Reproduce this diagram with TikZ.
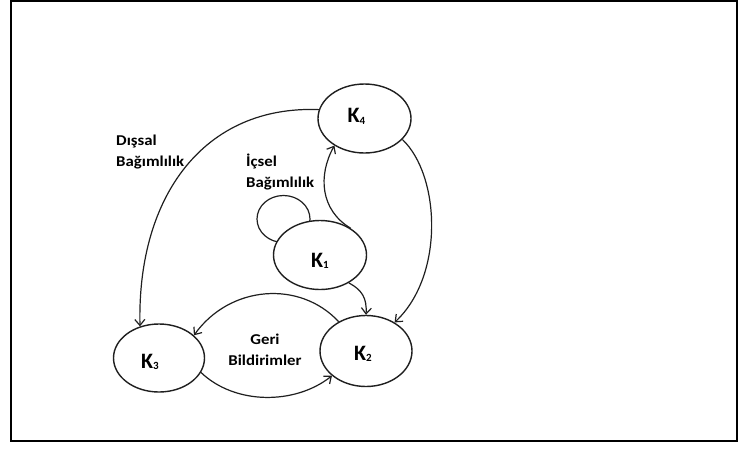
\documentclass[tikz,border=0pt]{standalone}
\usepackage{fontspec}
\setmainfont{Carlito}
\newfontfamily\labfont[FakeStretch=1.12]{Carlito}
\usetikzlibrary{shapes.geometric,arrows.meta,backgrounds,calc}
\newcommand\ksub[1]{\raisebox{-1.5pt}{\fontsize{11}{11}\selectfont #1}}
\begin{document}
\begin{tikzpicture}[x=1pt,y=-1pt,
  state/.style={ellipse, draw=black!88, line width=1.4pt, fill=white,
    minimum width=93pt, minimum height=69pt, inner sep=0pt},
  kfont/.style={font=\fontsize{22}{22}\selectfont\bfseries, inner sep=0pt, text=black},
  link/.style={draw=black!88, line width=1.2pt, -{Straight Barb[length=6pt,width=10pt]}},
  loopline/.style={draw=black!88, line width=1.2pt},
  lab/.style={font=\labfont\fontsize{15}{20.5}\selectfont\bfseries, inner sep=0pt, text=black}
]
\useasboundingbox (0,0) rectangle (742,448);
% outer frame
\draw[line width=2pt] (10.5,1) rectangle (736.5,441);

% criteria clusters
\node[state, label={[kfont, xshift=-8pt, yshift=2pt]center:K\ksub{4}}] (K4) at (364.5,118.5) {};
\node[state, label={[kfont, xshift=0pt, yshift=-6pt]center:K\ksub{1}}] (K1) at (320,255) {};
\node[state, minimum width=91pt, minimum height=68pt,
      label={[kfont, xshift=-9pt, yshift=-4pt]center:K\ksub{3}}] (K3) at (159,358) {};
\node[state, minimum width=92pt, minimum height=71pt,
      label={[kfont, xshift=-3pt, yshift=-3pt]center:K\ksub{2}}] (K2) at (366,351) {};

% inner dependence loop, partly hidden behind K1
\begin{scope}[on background layer]
  \draw[loopline] ($(K1)+(-36.5,-36)$) ellipse[x radius=26.5pt, y radius=23.5pt];
\end{scope}

% connectors
\draw[link] (K4.169) .. controls (205,105) and (137,195) .. (K3.121);
\draw[link] (K4.331) .. controls (440,175) and (445,275) .. (K2.45);
\draw[link] (K1.41) .. controls (320,210) and (318,175) .. (K4.222);
\draw[link] (K1.316) .. controls (362,290) and (367,298) .. (K2.90);
\draw[link] (K2.133) .. controls (300,280) and (230,285) .. (K3.33);
\draw[link] (K3.341) .. controls (235,405) and (295,405) .. (K2.216);

% labels (anchored at the baseline of their last line)
\node[lab, align=left, anchor=base west] (ext) at (116,166) {Dışsal\\Bağımlılık};
\node[lab, align=left, anchor=base west] (int) at (246,187) {İçsel\\Bağımlılık};
\node[lab, align=center, anchor=base] (fb) at (265,365) {Geri\\Bildirimler};
\end{tikzpicture}
\end{document}
